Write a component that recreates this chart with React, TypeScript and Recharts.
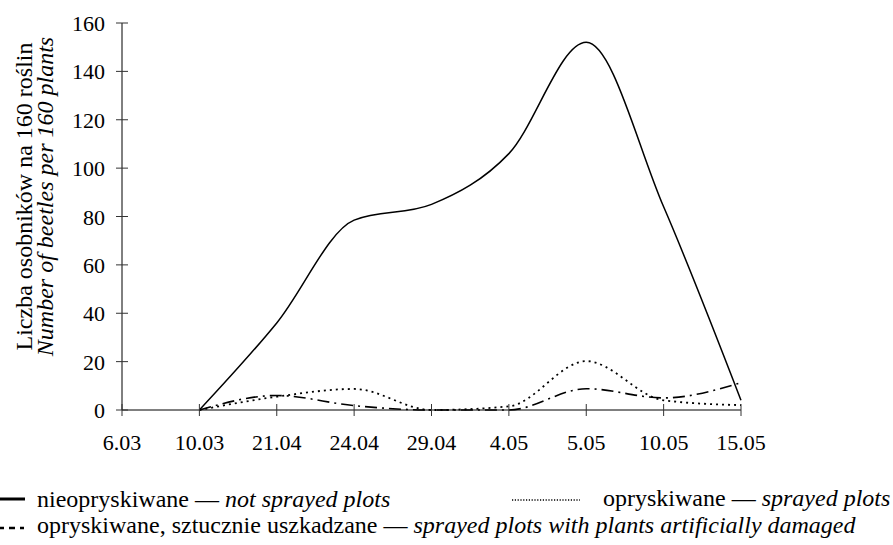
import React from 'react';
import { LineChart, Line, XAxis, YAxis, Label } from 'recharts';

// data
const dates = ['6.03', '10.03', '21.04', '24.04', '29.04', '4.05', '5.05', '10.05', '15.05'];
const notSprayed = [null, 0, 36, 78.5, 85, 106, 152, 84, 4];
const sprayed = [null, 0, 5.5, 8.7, 0, 1.5, 20.2, 4, 2];
const sprayedDamaged = [null, 0, 6, 1.8, 0, 0, 8.8, 5, 11.3];
const yTicks = [0, 20, 40, 60, 80, 100, 120, 140, 160];

const data = dates.map((d, i) => ({
  date: d,
  notSprayed: notSprayed[i],
  sprayed: sprayed[i],
  damaged: sprayedDamaged[i],
}));

const FONT = '"Liberation Serif", "Times New Roman", serif';
const TICK = 6;
const Y_MARGIN = 11;
const X_MARGIN = 8;
const FS = 22;
const LFS = 24;

// ticks cross the axis on both sides
const YTick = (props: any) => {
  const { x, y, payload } = props;
  const axisX = x + TICK + Y_MARGIN;
  return (
    <g>
      <line x1={axisX - TICK} x2={axisX + TICK} y1={y} y2={y} stroke="#333" />
      <text x={x} y={y} dy={8} textAnchor="end" fontSize={FS} fill="#000" fontFamily={FONT}>
        {payload.value}
      </text>
    </g>
  );
};

const XTick = (props: any) => {
  const { x, y, payload } = props;
  const axisY = y - TICK - X_MARGIN;
  return (
    <g>
      <line x1={x} x2={x} y1={axisY - TICK} y2={axisY + TICK} stroke="#333" />
      <text x={x} y={y} dy={26} textAnchor="middle" fontSize={FS} fill="#000" fontFamily={FONT}>
        {payload.value}
      </text>
    </g>
  );
};

const YLabel = (props: any) => {
  const vb = props.viewBox || {};
  const cy = vb.y + vb.height / 2 - 20;
  return (
    <g fontFamily={FONT} fontSize={LFS} fill="#000">
      <text x={32} y={cy} textAnchor="middle" transform={`rotate(-90, 32, ${cy})`}>
        Liczba osobników na 160 roślin
      </text>
      <text x={53} y={cy} textAnchor="middle" fontStyle="italic" transform={`rotate(-90, 53, ${cy})`}>
        Number of beetles per 160 plants
      </text>
    </g>
  );
};

const Legend = () => (
  <svg width={893} height={95} style={{ position: 'absolute', left: 0, top: 450 }}>
    <g fontFamily={FONT} fontSize={LFS} fill="#000">
      <line x1={0} x2={25} y1={49} y2={49} stroke="#000" strokeWidth={3} />
      <text x={37} y={57}>
        nieopryskiwane — <tspan fontStyle="italic">not sprayed plots</tspan>
      </text>
      <line x1={512} x2={580} y1={50} y2={50} stroke="#000" strokeWidth={1.5} strokeDasharray="1.2 1.6" />
      <text x={603} y={56}>
        opryskiwane — <tspan fontStyle="italic">sprayed plots</tspan>
      </text>
      <line x1={-2} x2={24} y1={78} y2={78} stroke="#000" strokeWidth={2.5} strokeDasharray="6 5" />
      <text x={37} y={83}>
        opryskiwane, sztucznie uszkadzane — <tspan fontStyle="italic">sprayed plots with plants artificially damaged</tspan>
      </text>
    </g>
  </svg>
);

export default function App() {
  return (
    <div style={{ position: 'absolute', left: 0, top: 0, width: 893, height: 545, background: '#fff', fontFamily: FONT }}>
      <LineChart width={893} height={470} data={data} margin={{ top: 23, right: 152, left: 0, bottom: 30 }}>
        <XAxis
          dataKey="date"
          padding={{ left: 0, right: 0 }}
          axisLine={{ stroke: '#000' }}
          tickLine={false}
          tickSize={TICK}
          tickMargin={X_MARGIN}
          tick={<XTick />}
          interval={0}
          height={30}
        />
        <YAxis
          domain={[0, 160]}
          ticks={yTicks}
          width={122}
          axisLine={{ stroke: '#000' }}
          tickLine={false}
          tickSize={TICK}
          tickMargin={Y_MARGIN}
          tick={<YTick />}
          interval={0}
        >
          <Label content={<YLabel />} />
        </YAxis>
        <Line
          type="monotone"
          dataKey="notSprayed"
          stroke="#000"
          strokeWidth={1.5}
          dot={false}
          isAnimationActive={false}
        />
        <Line
          type="monotone"
          dataKey="sprayed"
          stroke="#000"
          strokeWidth={1.8}
          strokeDasharray="2 4"
          dot={false}
          isAnimationActive={false}
        />
        <Line
          type="monotone"
          dataKey="damaged"
          stroke="#000"
          strokeWidth={1.6}
          strokeDasharray="12 5 2 5"
          dot={false}
          isAnimationActive={false}
        />
      </LineChart>
      <Legend />
    </div>
  );
}
